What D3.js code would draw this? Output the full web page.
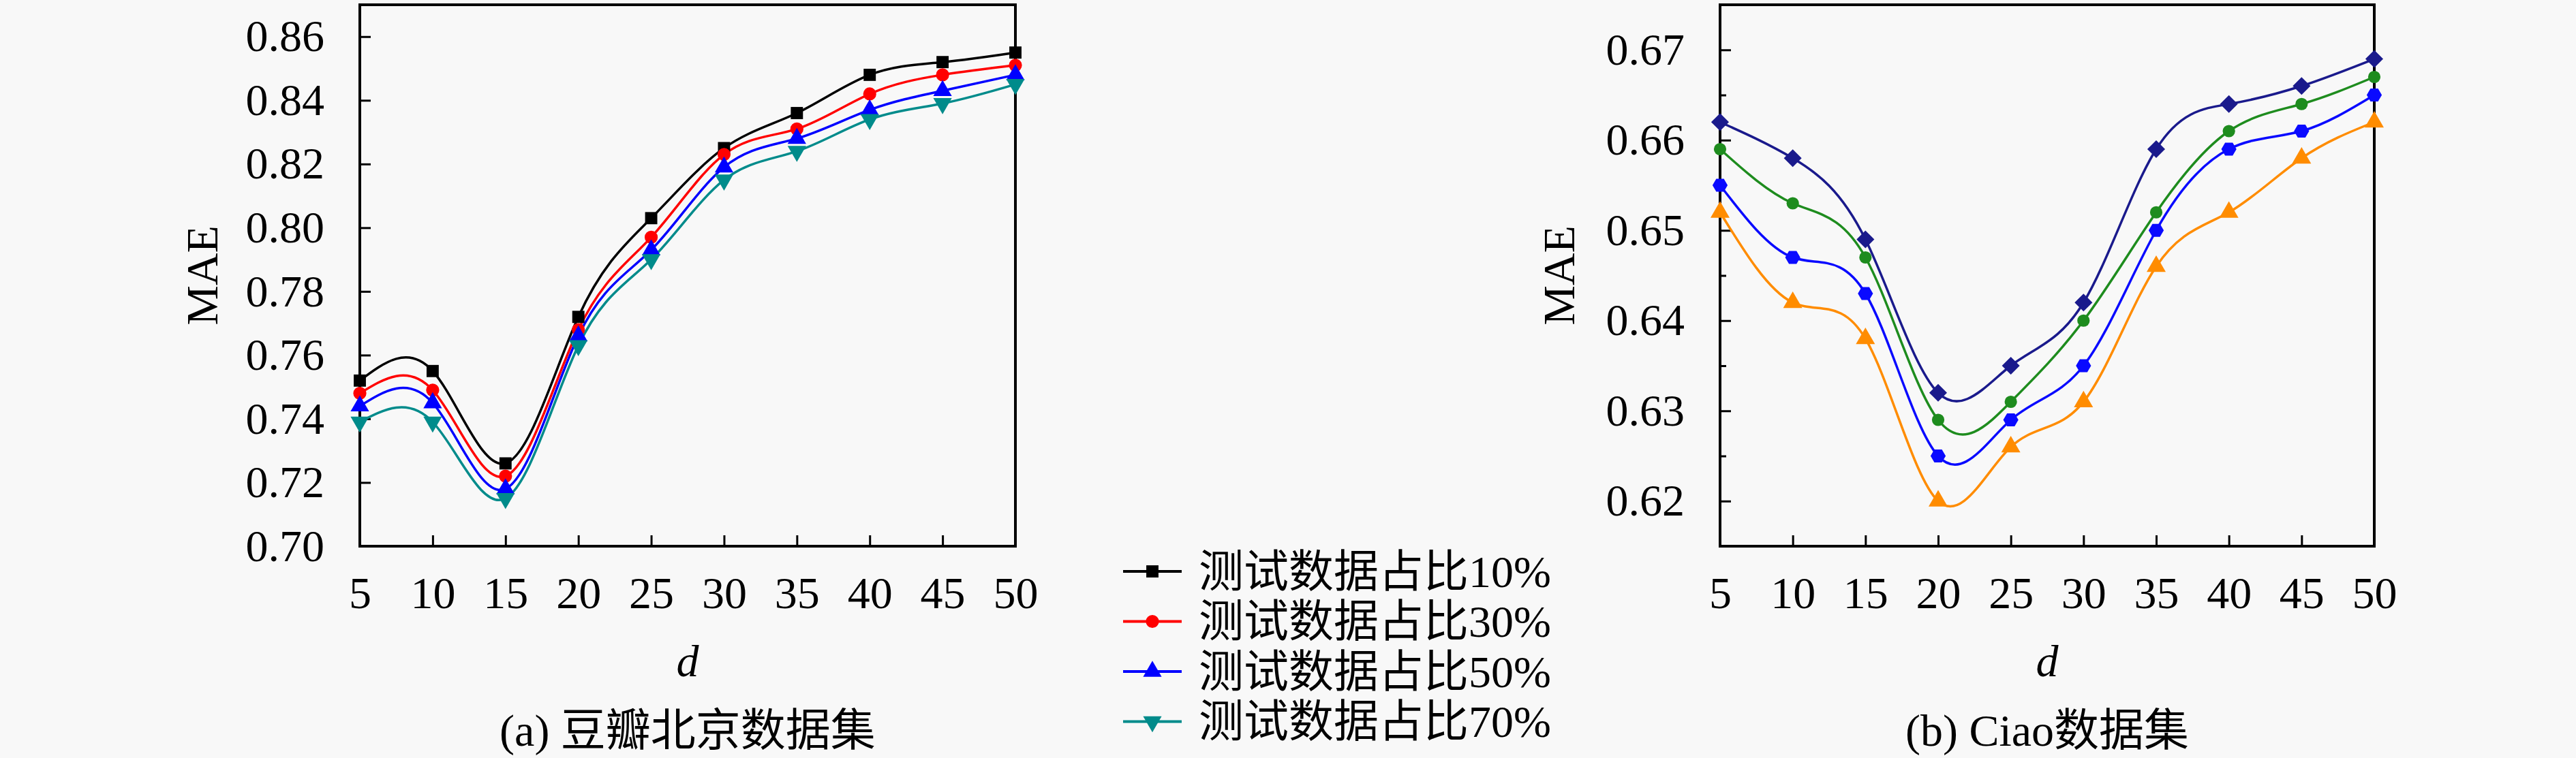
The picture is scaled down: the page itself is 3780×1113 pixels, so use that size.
<!DOCTYPE html>
<html><head><meta charset="utf-8">
<script src="https://cdn.jsdelivr.net/npm/d3@7"></script>
<style>
html,body{margin:0;padding:0;background:#f8f8f8;}
svg{display:block;}
text{font-family:"Liberation Serif","Noto Sans CJK SC",serif;fill:#000;}
</style></head>
<body>
<svg id="chart" width="3780" height="1113"></svg>
<script>
// ---- data ----
const dValues = [5, 10, 15, 20, 25, 30, 35, 40, 45, 50];

// (a) Douban Beijing
const doubanSeriesNames = ["测试数据占比10%", "测试数据占比30%", "测试数据占比50%", "测试数据占比70%"];
const douban10 = [0.752, 0.755, 0.726, 0.772, 0.803, 0.825, 0.836, 0.848, 0.852, 0.855];
const douban30 = [0.748, 0.749, 0.722, 0.768, 0.797, 0.823, 0.831, 0.842, 0.848, 0.851];
const douban50 = [0.744, 0.745, 0.718, 0.766, 0.793, 0.819, 0.828, 0.837, 0.843, 0.848];
const douban70 = [0.739, 0.739, 0.715, 0.763, 0.790, 0.815, 0.824, 0.834, 0.839, 0.845];
const doubanYTicks = [0.70, 0.72, 0.74, 0.76, 0.78, 0.80, 0.82, 0.84, 0.86];

// (b) Ciao
const ciaoA = [0.662, 0.658, 0.649, 0.632, 0.635, 0.642, 0.659, 0.664, 0.666, 0.669];
const ciaoB = [0.659, 0.653, 0.647, 0.629, 0.631, 0.640, 0.652, 0.661, 0.664, 0.667];
const ciaoC = [0.655, 0.647, 0.643, 0.625, 0.629, 0.635, 0.650, 0.659, 0.661, 0.665];
const ciaoD = [0.652, 0.642, 0.638, 0.620, 0.626, 0.631, 0.646, 0.652, 0.658, 0.662];
const ciaoYTicks = [0.62, 0.63, 0.64, 0.65, 0.66, 0.67];
const ciaoYMinorTicks = [0.625, 0.635, 0.645, 0.655, 0.665];

const xTicks = [5, 10, 15, 20, 25, 30, 35, 40, 45, 50];
const titleA = "(a) 豆瓣北京数据集";
const titleB = "(b) Ciao数据集";
const yLabel = "MAE";
const xLabel = "d";

// ---- drawing ----
const svg = d3.select("#chart");
const FS = 66;

const hexagon = {
  draw(ctx, size) {
    const r = Math.sqrt(size / (1.5 * Math.sqrt(3)));
    for (let i = 0; i < 6; i++) {
      const a = Math.PI / 3 * i;
      const px = r * Math.cos(a), py = r * Math.sin(a);
      if (i === 0) ctx.moveTo(px, py); else ctx.lineTo(px, py);
    }
    ctx.closePath();
  }
};

function panel(opts) {
  const {left, right, top, bottom, yDomain, yTicks, yMinor, series, title, labelX} = opts;
  const x = d3.scaleLinear().domain([5, 50]).range([left, right]);
  const y = d3.scaleLinear().domain(yDomain).range([bottom, top]);
  const g = svg.append("g");

  const xa = g.append("g").attr("transform", `translate(0,${bottom})`)
    .call(d3.axisBottom(x).tickValues(xTicks).tickSize(-16).tickPadding(44).tickFormat(d3.format("d")));
  const ya = g.append("g").attr("transform", `translate(${left},0)`)
    .call(d3.axisLeft(y).tickValues(yTicks).tickSize(-16).tickPadding(52).tickFormat(d3.format(".2f")));
  if (yMinor) {
    g.append("g").attr("transform", `translate(${left},0)`)
      .call(d3.axisLeft(y).tickValues(yMinor).tickSize(-9).tickFormat(""))
      .call(a => a.select(".domain").remove());
  }
  [xa, ya].forEach(a => {
    a.select(".domain").remove();
    a.selectAll(".tick text").attr("font-size", FS).attr("font-family", "Liberation Serif");
  });
  g.selectAll(".tick line").attr("stroke", "#000").attr("stroke-width", 3);

  g.append("rect").attr("x", left).attr("y", top).attr("width", right - left).attr("height", bottom - top)
    .attr("fill", "none").attr("stroke", "#000").attr("stroke-width", 4);

  const line = d3.line().x((d, i) => x(dValues[i])).y(d => y(d)).curve(d3.curveNatural);
  series.forEach(s => {
    g.append("path").datum(s.values).attr("d", line)
      .attr("fill", "none").attr("stroke", s.color).attr("stroke-width", 3.5);
  });
  series.forEach(s => {
    g.selectAll(null).data(s.values).enter().append("path")
      .attr("d", d3.symbol().type(s.symbol).size(s.size))
      .attr("transform", (d, i) => `translate(${x(dValues[i])},${y(d)}) rotate(${s.rotate || 0})`)
      .attr("fill", s.color);
  });

  const cx = (left + right) / 2;
  g.append("text").attr("x", cx).attr("y", 970).attr("text-anchor", "middle")
    .attr("dominant-baseline", "central").attr("font-size", FS).attr("font-style", "italic").text(xLabel);
  g.append("text").attr("transform", `translate(${labelX},${(top + bottom) / 2}) rotate(-90)`)
    .attr("text-anchor", "middle").attr("dominant-baseline", "central").attr("font-size", FS).text(yLabel);
  g.append("text").attr("x", cx).attr("y", 1072).attr("text-anchor", "middle")
    .attr("dominant-baseline", "central").attr("font-size", FS).text(title);
}

const doubanSeries = [
  {values: douban10, color: "#000000", symbol: d3.symbolSquare, size: 320},
  {values: douban30, color: "#ff0000", symbol: d3.symbolCircle, size: 290},
  {values: douban50, color: "#0000ff", symbol: d3.symbolTriangle, size: 320},
  {values: douban70, color: "#008b8b", symbol: d3.symbolTriangle, size: 320, rotate: 180}
];
panel({left: 528, right: 1490, top: 7, bottom: 802, yDomain: [0.70, 0.87], yTicks: doubanYTicks,
  series: doubanSeries, title: titleA, labelX: 296});

const ciaoSeries = [
  {values: ciaoA, color: "#1a1a8c", symbol: d3.symbolSquare, size: 340, rotate: 45},
  {values: ciaoB, color: "#1e8c1e", symbol: d3.symbolCircle, size: 260},
  {values: ciaoC, color: "#0a0aff", symbol: hexagon, size: 320},
  {values: ciaoD, color: "#ff8c00", symbol: d3.symbolTriangle, size: 340}
];
panel({left: 2524, right: 3484, top: 7, bottom: 802, yDomain: [0.615, 0.675], yTicks: ciaoYTicks,
  yMinor: ciaoYMinorTicks, series: ciaoSeries, title: titleB, labelX: 2287});

const lg = svg.append("g");
doubanSeries.forEach((s, i) => {
  const yy = 839 + i * 73.5;
  lg.append("line").attr("x1", 1648).attr("x2", 1734).attr("y1", yy).attr("y2", yy)
    .attr("stroke", s.color).attr("stroke-width", 4);
  lg.append("path").attr("d", d3.symbol().type(s.symbol).size(s.size))
    .attr("transform", `translate(1691,${yy}) rotate(${s.rotate || 0})`).attr("fill", s.color);
  lg.append("text").attr("x", 1759).attr("y", yy).attr("dominant-baseline", "central")
    .attr("font-size", FS).text(doubanSeriesNames[i]);
});
</script>
</body></html>
